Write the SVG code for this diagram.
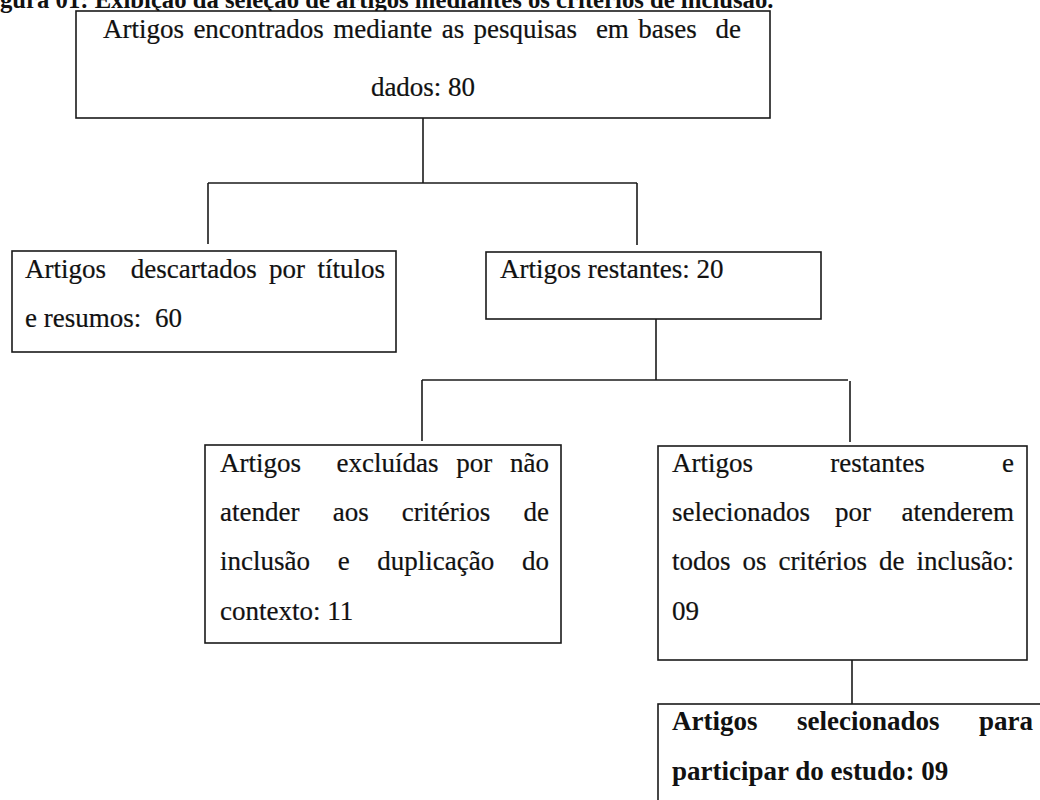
<svg xmlns="http://www.w3.org/2000/svg" width="1040" height="800" viewBox="0 0 1040 800">
<style>
.bg{fill:#ffffff}
.box{fill:#ffffff;stroke:#1a1a1a;stroke-width:1.6}
.t{font-family:"Liberation Serif","Times New Roman",serif;font-size:27px;fill:#111111;stroke:#111111;stroke-width:0.2}
.b{font-family:"Liberation Serif","Times New Roman",serif;font-size:27px;font-weight:bold;fill:#111111}
.title{font-family:"Liberation Serif","Times New Roman",serif;font-size:24.7px;font-weight:bold;fill:#111111}
.c{fill:none;stroke:#1a1a1a;stroke-width:1.6}
</style>
<rect class="bg" x="0" y="0" width="1040" height="800"/>
<text class="title" x="0" y="8">gura 01: Exibição da seleção de artigos mediantes os critérios de inclusão.</text>
<g id="connectors">
<path class="c" d="M423 118 V183"/>
<path class="c" d="M208 183 H637"/>
<path class="c" d="M208 183 V244"/>
<path class="c" d="M637 183 V245"/>
<path class="c" d="M656 319 V380"/>
<path class="c" d="M422 380 H848"/>
<path class="c" d="M422 380 V441"/>
<path class="c" d="M850 381 V442"/>
<path class="c" d="M852 660 V713"/>
</g>
<g id="n-encontrados">
<rect class="box" x="76" y="11" width="694" height="107"/>
<text class="t" y="38"><tspan x="103">Artigos</tspan><tspan x="193.4">encontrados</tspan><tspan x="333.3">mediante</tspan><tspan x="441.7">as</tspan><tspan x="473.6">pesquisas</tspan><tspan x="595.9">em</tspan><tspan x="638.3">bases</tspan><tspan x="715.6">de</tspan></text>
<text class="t" x="423" y="96" text-anchor="middle">dados: 80</text>
</g>
<g id="n-descartados">
<rect class="box" x="12" y="251" width="384" height="101"/>
<text class="t" y="278"><tspan x="25">Artigos</tspan><tspan x="130.8">descartados</tspan><tspan x="269.1">por</tspan><tspan x="317.5">títulos</tspan></text>
<text class="t" y="327"><tspan x="25">e resumos:</tspan><tspan x="155">60</tspan></text>
</g>
<g id="n-restantes">
<rect class="box" x="486" y="252" width="335" height="67"/>
<text class="t" x="500" y="278">Artigos restantes: 20</text>
</g>
<g id="n-excluidas">
<rect class="box" x="205" y="445" width="356" height="198"/>
<text class="t" y="472"><tspan x="220">Artigos</tspan><tspan x="336.5">excluídas</tspan><tspan x="456.3">por</tspan><tspan x="510">não</tspan></text>
<text class="t" y="521"><tspan x="220">atender</tspan><tspan x="332.7">aos</tspan><tspan x="401.8">critérios</tspan><tspan x="523.5">de</tspan></text>
<text class="t" y="570"><tspan x="220">inclusão</tspan><tspan x="337.7">e</tspan><tspan x="377.3">duplicação</tspan><tspan x="522">do</tspan></text>
<text class="t" x="220" y="620">contexto: 11</text>
</g>
<g id="n-selecionados">
<rect class="box" x="658" y="446" width="369" height="214"/>
<text class="t" y="472"><tspan x="672">Artigos</tspan><tspan x="830.3">restantes</tspan><tspan x="1002">e</tspan></text>
<text class="t" y="521"><tspan x="672">selecionados</tspan><tspan x="835">por</tspan><tspan x="901.5">atenderem</tspan></text>
<text class="t" y="570"><tspan x="672">todos</tspan><tspan x="742.5">os</tspan><tspan x="778.5">critérios</tspan><tspan x="879">de</tspan><tspan x="916.5">inclusão:</tspan></text>
<text class="t" x="672" y="620">09</text>
</g>
<g id="n-estudo">
<rect class="box" x="658" y="704" width="400" height="110"/>
<text class="b" y="730"><tspan x="672">Artigos</tspan><tspan x="797">selecionados</tspan><tspan x="979">para</tspan></text>
<text class="b" x="672" y="780">participar do estudo: 09</text>
</g>
</svg>
